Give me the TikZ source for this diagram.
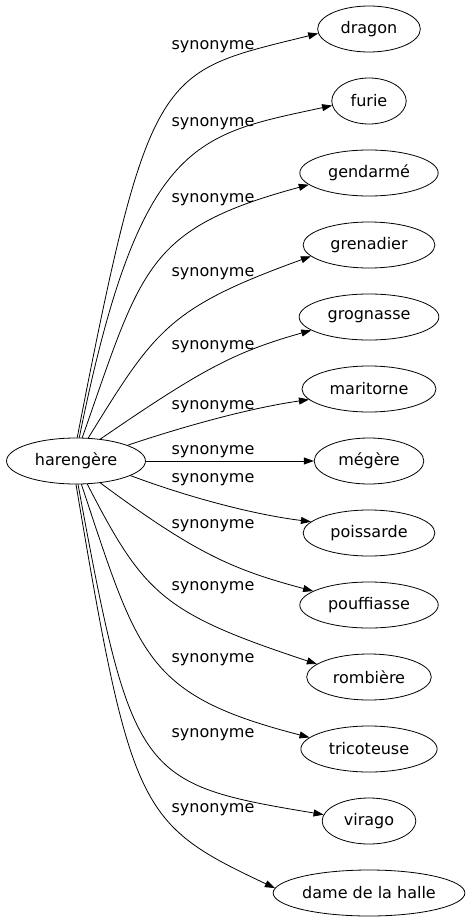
\documentclass[tikz,border=0pt]{standalone}
\usepackage{fontspec}
\setmainfont{DejaVu Sans}
\usetikzlibrary{arrows.meta,shapes.geometric}
\begin{document}
\begin{tikzpicture}[x=1pt,y=-1pt,
  every node/.style={font=\fontsize{16}{19}\selectfont},
  term/.style={ellipse,draw,line width=0.8pt,inner xsep=8pt,inner ysep=0pt,minimum height=46pt},
  lab/.style={inner sep=0pt},
  syn/.style={draw,line width=0.8pt,-{Triangle[length=10pt,width=7pt]}}]
\useasboundingbox (0,0) rectangle (474,923);
\node[term] (h) at (76,461) {harengère};
\node[term] (t0) at (369,29) {dragon};
\node[term] (t1) at (369,101) {furie};
\node[term] (t2) at (369,173) {gendarmé};
\node[term] (t3) at (369,245) {grenadier};
\node[term] (t4) at (369,317) {grognasse};
\node[term] (t5) at (369,389) {maritorne};
\node[term] (t6) at (369,461) {mégère};
\node[term] (t7) at (369,533) {poissarde};
\node[term] (t8) at (369,605) {pouffiasse};
\node[term] (t9) at (369,677) {rombière};
\node[term] (t10) at (369,749) {tricoteuse};
\node[term] (t11) at (369,821) {virago};
\node[term,inner xsep=1pt] (t12) at (369,893) {dame de la halle};
\draw[syn] (h.87.5) .. controls (150,63) and (159,73) .. (t0.185.6);
\draw[syn] (h.82.6) .. controls (140,137) and (197,135) .. (t1.187.5);
\draw[syn] (h.75.3) .. controls (142,268) and (145,229) .. (t2.191);
\draw[syn] (h.62) .. controls (155,330) and (168,308) .. (t3.191.7);
\draw[syn] (h.42) .. controls (201,370) and (234,352) .. (t4.193);
\draw[syn] (h.17) .. controls (185,426) and (250,408) .. (t5.190);
\draw[syn] (h) -- (t6);
\draw[syn] (h.-15) .. controls (185,496) and (250,514) .. (t7.169.4);
\draw[syn] (h.-42) .. controls (196,554) and (234,570) .. (t8.166);
\draw[syn] (h.-64.4) .. controls (144,594) and (162,613) .. (t9.166);
\draw[syn] (h.-77.7) .. controls (139,657) and (145,695) .. (t10.169);
\draw[syn] (h.-85) .. controls (132,778) and (139,784) .. (t11.172.4);
\draw[syn] (h.-90) .. controls (131,812) and (139,824) .. (t12.177.6);
\node[lab] (l0) at (213,47) {synonyme};
\node[lab] (l1) at (213,124) {synonyme};
\node[lab] (l2) at (213,200) {synonyme};
\node[lab] (l3) at (213,274) {synonyme};
\node[lab] (l4) at (213,347) {synonyme};
\node[lab] (l5) at (213,407) {synonyme};
\node[lab] (l6) at (213,452) {synonyme};
\node[lab] (l7) at (213,480) {synonyme};
\node[lab] (l8) at (213,526) {synonyme};
\node[lab] (l9) at (213,588) {synonyme};
\node[lab] (l10) at (213,660) {synonyme};
\node[lab] (l11) at (213,735) {synonyme};
\node[lab] (l12) at (213,810) {synonyme};
\end{tikzpicture}
\end{document}
